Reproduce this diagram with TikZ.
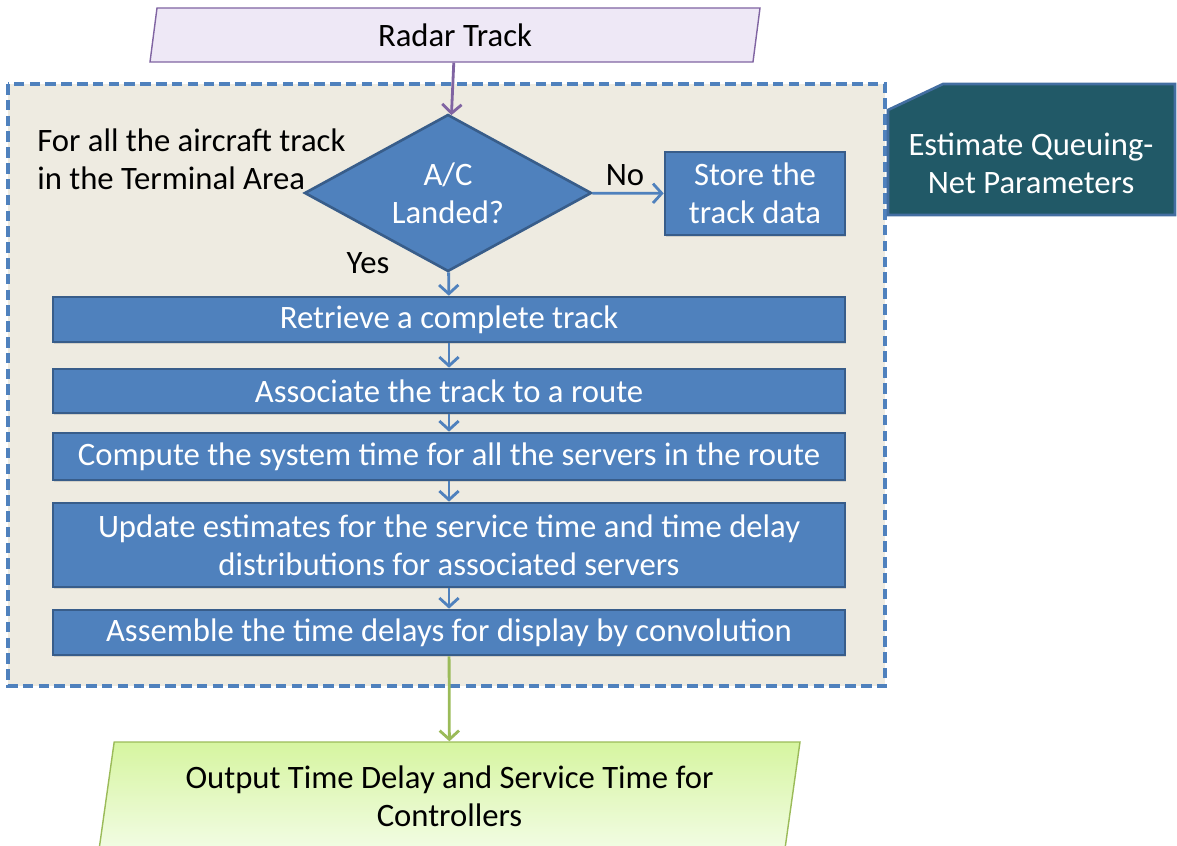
\documentclass[tikz,border=0pt]{standalone}
\usepackage{fontspec}
\setmainfont{Carlito}
\usepackage{tikz}
\usetikzlibrary{arrows.meta,positioning,shapes.geometric,shadows}
\definecolor{boxblue}{HTML}{4F81BD}
\definecolor{boxedge}{HTML}{385D8A}
\definecolor{areafill}{HTML}{EEEBE1}
\definecolor{lavender}{HTML}{EEE8F6}
\definecolor{violet}{HTML}{8064A2}
\definecolor{leaf}{HTML}{9BBB59}
\definecolor{leaftop}{HTML}{D6F5A0}
\definecolor{leafbottom}{HTML}{F2FCE4}
\definecolor{teal}{HTML}{215967}

\begin{document}
\begin{tikzpicture}[
		font=\fontsize{18.6}{21.6}\selectfont,
		stepbox/.style={rectangle,fill=boxblue,draw=boxedge,line width=1.5pt,text=white,align=center,minimum width=15.84cm,inner sep=0pt,drop shadow={shadow xshift=0.6pt,shadow yshift=-1.2pt,opacity=0.25}},
		iobox/.style={trapezium,trapezium stretches body,align=center,inner sep=0pt},
		flow/.style={draw=boxblue,line width=1.6pt,-{Straight Barb[length=5pt,width=11pt,line width=1.6pt]}},
	]
		\useasboundingbox (0,0) rectangle (23.54,-16.92);
		% terminal area frame
		\path [fill=areafill,draw=boxblue,line width=1.8pt,dash pattern=on 6pt off 3pt] (0.16,-1.68) rectangle (17.7,-13.72);
		\node (radar) at (9.1,-0.7) [iobox,trapezium left angle=73,trapezium right angle=107,minimum width=12.2cm,minimum height=1.08cm,fill=lavender,draw=violet,line width=0.8pt] {Radar Track};
		\node (landed) at (8.96,-3.86) [diamond,aspect=1.83,fill=boxblue,draw=boxedge,line width=1.5pt,text=white,align=center,minimum width=5.74cm,minimum height=3.14cm,inner sep=0pt] {A/C\\Landed?};
		\node (store) at (15.1,-3.87) [stepbox,minimum width=3.6cm,minimum height=1.66cm] {Store the\\track data};
		\node (area) at (0.74,-3.18) [anchor=west,align=left,inner sep=0pt] {For all the aircraft track\\in the Terminal Area};
		\node (no) at (12.5,-3.5) [] {No};
		\node (yes) at (7.36,-5.26) [] {Yes};
		\node (retrieve) at (8.98,-6.39) [stepbox,minimum height=0.9cm] {Retrieve a complete track};
		\node (associate) at (8.98,-7.82) [stepbox,minimum height=0.88cm] {Associate the track to a route};
		\node (compute) at (8.98,-9.13) [stepbox,minimum height=0.94cm] {Compute the system time for all the servers in the route};
		\node (update) at (8.98,-10.9) [stepbox,minimum height=1.68cm] {Update estimates for the service time and time delay\\distributions for associated servers};
		\node (assemble) at (8.98,-12.65) [stepbox,minimum height=0.9cm] {Assemble the time delays for display by convolution};
		\node (output) at (8.99,-15.92) [iobox,trapezium left angle=76,trapezium right angle=104,minimum width=14.02cm,minimum height=2.16cm,top color=leaftop,bottom color=leafbottom,draw=leaf,line width=0.8pt] {Output Time Delay and Service Time for\\Controllers};
		% side panel with cut corner
		\path [fill=teal,draw=boxblue!85!black,line width=1.5pt] (17.76,-2.2) -- (18.86,-1.68) -- (23.5,-1.68) -- (23.5,-4.3) -- (17.76,-4.3) -- cycle;
		\node (estimate) at (20.62,-3.26) [text=white,align=center] {Estimate Queuing-\\Net Parameters};
		% connectors
		\path [flow,draw=violet] (radar) -- (landed);
		\path [flow] (landed) -- (store);
		\path [flow] (landed) -- (retrieve);
		\path [flow] (retrieve) -- (associate);
		\path [flow] (associate) -- (compute);
		\path [flow] (compute) -- (update);
		\path [flow] (update) -- (assemble);
		\path [flow,draw=leaf] (assemble) -- (output);
	\end{tikzpicture}
\end{document}
